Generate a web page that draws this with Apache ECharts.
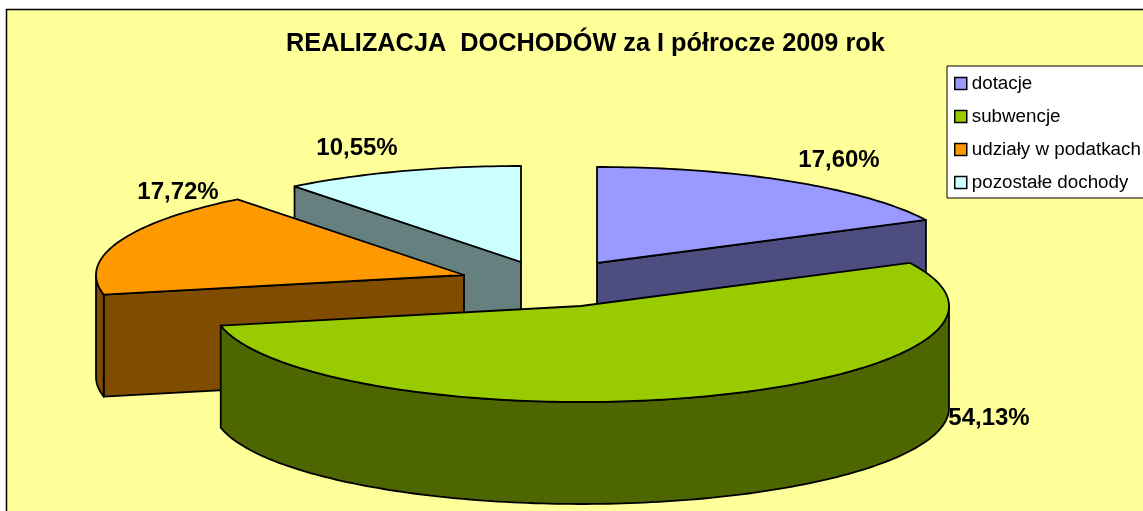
<!DOCTYPE html>
<html>
<head>
<meta charset="utf-8">
<title>REALIZACJA DOCHODÓW</title>
<script src="https://cdn.jsdelivr.net/npm/echarts@6/dist/echarts.min.js"></script>
<style>
  html, body { margin: 0; padding: 0; background: #fff; }
  #box { width: 1143px; height: 511px; }
</style>
</head>
<body>
<div id="box"></div>
<script>
const titleText = 'REALIZACJA  DOCHODÓW za I półrocze 2009 rok';
const categories = ['dotacje', 'subwencje', 'udziały w podatkach', 'pozostałe dochody'];
const shares = [17.60, 54.13, 17.72, 10.55];

const topColors = ['#9999FF', '#99CC00', '#FF9900', '#CCFFFF'];
const sideColors = ['#4D4D80', '#4D6600', '#804D00', '#668080'];

// ellipse of the tilted pie, and how far each slice is pulled out of it
const center = [551, 282];
const radiusX = 368;
const radiusY = 96;
const depth = 102;
const explode = [[46, -19], [30, 24], [-87, -7], [-30, -20]];
const labelPos = [[839, 160], [989, 418], [178, 192], [357, 148]];
// back to front
const drawOrder = [0, 1, 2, 3].map(function (i) { return [3, 0, 2, 1].indexOf(i); });

const total = shares.reduce(function (a, b) { return a + b; }, 0);

function startAngle(index) {
  let sum = 0;
  for (let i = 0; i < index; i++) sum += shares[i];
  return sum / total * Math.PI * 2;
}

// angle runs clockwise from 12 o'clock
function rim(apex, a, drop) {
  return [apex[0] + radiusX * Math.sin(a), apex[1] - radiusY * Math.cos(a) + (drop || 0)];
}

function arc(apex, a0, a1, drop) {
  const pts = [];
  const n = Math.max(2, Math.ceil((a1 - a0) / 0.02));
  for (let i = 0; i <= n; i++) pts.push(rim(apex, a0 + (a1 - a0) * i / n, drop));
  return pts;
}

function poly(points, fill) {
  return {
    type: 'polygon',
    shape: { points: points },
    style: { fill: fill, stroke: '#000', lineWidth: 1.8, lineJoin: 'round' }
  };
}

function cutFace(apex, a, fill) {
  const p = rim(apex, a);
  return poly([apex, p, [p[0], p[1] + depth], [apex[0], apex[1] + depth]], fill);
}

function renderSlice(params, api) {
  const i = params.seriesIndex;
  const a0 = startAngle(i);
  const a1 = a0 + api.value(0) / total * Math.PI * 2;
  const apex = [center[0] + explode[i][0], center[1] + explode[i][1]];
  const children = [];

  // a cut face shows only when its outward normal points at the viewer
  if (Math.cos(a0 - Math.PI / 2) < 0) children.push(cutFace(apex, a0, sideColors[i]));
  if (Math.cos(a1 + Math.PI / 2) < 0) children.push(cutFace(apex, a1, sideColors[i]));

  // outer wall, only the front half of the rim
  const w0 = Math.max(a0, Math.PI / 2);
  const w1 = Math.min(a1, Math.PI * 1.5);
  if (w1 > w0) {
    children.push(poly(arc(apex, w0, w1).concat(arc(apex, w0, w1, depth).reverse()), sideColors[i]));
  }

  children.push(poly([apex].concat(arc(apex, a0, a1)), topColors[i]));

  children.push({
    type: 'text',
    z2: 50,
    style: {
      x: labelPos[i][0],
      y: labelPos[i][1],
      text: api.value(0).toFixed(2).replace('.', ',') + '%',
      font: 'bold 24px "Liberation Sans", Arial, sans-serif',
      fill: '#000',
      align: 'center',
      verticalAlign: 'middle'
    }
  });

  return { type: 'group', children: children };
}

const chart = echarts.init(document.getElementById('box'), null, { renderer: 'canvas' });

chart.setOption({
  animation: false,
  backgroundColor: '#fff',
  title: {
    text: titleText,
    left: 281,
    top: 27,
    textStyle: {
      fontFamily: '"Liberation Sans", Arial, sans-serif',
      fontSize: 25.3,
      fontWeight: 'bold',
      color: '#000'
    }
  },
  legend: {
    orient: 'vertical',
    left: 947,
    top: 66,
    padding: [8, 40, 6, 7],
    itemWidth: 12,
    itemHeight: 12,
    itemGap: 14,
    backgroundColor: '#fff',
    borderColor: '#000',
    borderWidth: 1,
    selectedMode: false,
    textStyle: {
      fontFamily: '"Liberation Sans", Arial, sans-serif',
      fontSize: 18.8,
      color: '#000',
      padding: [0, 0, 0, 0]
    },
    data: categories.map(function (name, i) {
      return {
        name: name,
        icon: 'rect',
        itemStyle: { color: topColors[i], borderColor: '#000', borderWidth: 1.5 }
      };
    })
  },
  graphic: [{
    type: 'rect',
    silent: true,
    z: -10,
    shape: { x: 6.5, y: 9.5, width: 1200, height: 600 },
    style: { fill: '#FFFF99', stroke: '#000', lineWidth: 1.5 }
  }],
  series: categories.map(function (name, i) {
    return {
      type: 'custom',
      name: name,
      coordinateSystem: 'none',
      silent: true,
      clip: false,
      z: 2 + drawOrder[i],
      itemStyle: { color: topColors[i] },
      renderItem: renderSlice,
      data: [{ name: name, value: [shares[i]] }]
    };
  })
});
</script>
</body>
</html>
